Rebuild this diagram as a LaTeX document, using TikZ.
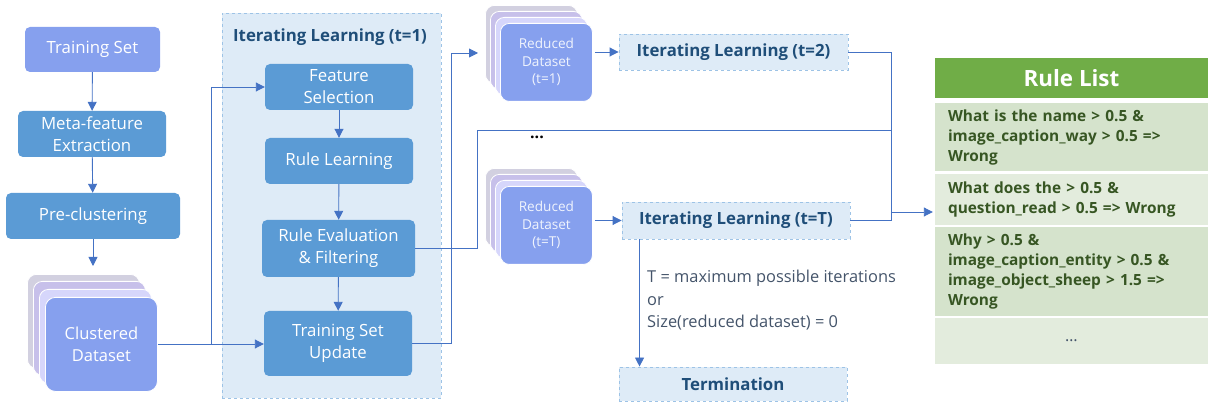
\documentclass[tikz,border=0pt]{standalone}
\usepackage{fontspec}
\setmainfont{Open Sans}
\usetikzlibrary{arrows.meta}
\definecolor{boxblue}{HTML}{5B9BD5}
\definecolor{setblue}{HTML}{86A0EE}
\definecolor{linkblue}{HTML}{4472C4}
\definecolor{panel}{HTML}{DEEBF7}
\definecolor{panelline}{HTML}{9DC3E6}
\definecolor{titleblue}{HTML}{1F4E79}
\definecolor{layerA}{HTML}{D2D0E0}
\definecolor{layerB}{HTML}{C7C0EA}
\definecolor{layerC}{HTML}{D6D6FB}
\definecolor{rulegreen}{HTML}{70AD47}
\definecolor{rowdark}{HTML}{D5E3CC}
\definecolor{rowlight}{HTML}{E3ECDD}
\definecolor{ruletext}{HTML}{375623}
\definecolor{notetext}{HTML}{44546A}
\tikzset{
  stepbox/.style={fill=boxblue, rounded corners=5pt, text=white, align=center,
    inner sep=0pt, font=\fontsize{16.8}{22}\selectfont},
  setbox/.style={stepbox, fill=setblue},
  layer/.style={draw=white, line width=0.8pt, rounded corners=9pt, anchor=north west},
  iterbox/.style={draw=panelline, dashed, line width=0.9pt, fill=panel, text=titleblue,
    inner sep=0pt, font=\bfseries\fontsize{16.8}{20}\selectfont},
  link/.style={draw=linkblue, line width=0.9pt},
  arrow/.style={link, -{Triangle[length=9pt,width=9pt]}},
  rulerow/.style={minimum width=273pt, text width=247pt, inner xsep=13pt, align=left,
    text=ruletext, font=\bfseries\fontsize{15.4}{20}\selectfont}
}
\begin{document}
\begin{tikzpicture}[x=1pt,y=-1pt]
  \useasboundingbox (0,0) rectangle (1208,403);
  \node[iterbox, minimum width=219pt, minimum height=385pt] (iter1) at (331.5,205.5) {};
  \node[text=titleblue, font=\bfseries\fontsize{16.8}{20}\selectfont] (iter1title) at (330,37) {Iterating Learning (t=1)};

  \node[setbox, minimum width=135pt, minimum height=45pt] (train) at (92.5,49.5) {Training Set};
  \node[stepbox, minimum width=148pt, minimum height=46pt] (meta) at (92,134) {Meta-feature\\Extraction};
  \node[stepbox, minimum width=174pt, minimum height=46pt] (precl) at (93,216) {Pre-clustering};
  \node[layer, fill=layerA, minimum width=112pt, minimum height=94pt] (clusA) at (27,274) {};
  \node[layer, fill=layerB, minimum width=112pt, minimum height=94pt] (clusB) at (33,281) {};
  \node[layer, fill=layerC, minimum width=112pt, minimum height=94pt] (clusC) at (39,289) {};
  \node[setbox, layer, rounded corners=10pt, minimum width=112pt, minimum height=94pt,
    font=\fontsize{16.5}{22}\selectfont] (clus) at (45,297) {Clustered\\Dataset};

  \node[stepbox, minimum width=148pt, minimum height=46pt] (fs) at (339,87) {Feature\\Selection};
  \node[stepbox, minimum width=148pt, minimum height=46pt] (rl) at (339,161) {Rule Learning};
  \node[stepbox, minimum width=153pt, minimum height=57pt] (refil) at (338.5,248.5) {Rule Evaluation\\\& Filtering};
  \node[stepbox, minimum width=148pt, minimum height=65pt] (tsu) at (338,343.5) {Training Set\\Update};

  \node[layer, fill=layerA, minimum width=92pt, minimum height=78pt] (red1A) at (485,5) {};
  \node[layer, fill=layerB, minimum width=92pt, minimum height=78pt] (red1B) at (490,11) {};
  \node[layer, fill=layerC, minimum width=92pt, minimum height=78pt] (red1C) at (495,17) {};
  \node[setbox, layer, minimum width=92pt, minimum height=78pt, text=white!88!setblue,
    font=\fontsize{13.6}{17.5}\selectfont] (red1) at (500,23) {Reduced\\Dataset\\(t=1)};
  \node[iterbox, minimum width=229pt, minimum height=36pt] (iter2) at (733.5,52) {Iterating Learning (t=2)};
  \node[font=\bfseries\fontsize{16}{18}\selectfont] (dots) at (537,137) {...};

  \node[layer, fill=layerA, minimum width=92pt, minimum height=78pt] (redTA) at (485,168) {};
  \node[layer, fill=layerB, minimum width=92pt, minimum height=78pt] (redTB) at (490,174) {};
  \node[layer, fill=layerC, minimum width=92pt, minimum height=78pt] (redTC) at (495,180) {};
  \node[setbox, layer, minimum width=92pt, minimum height=78pt, text=white!88!setblue,
    font=\fontsize{13.6}{17.5}\selectfont] (redT) at (500,186) {Reduced\\Dataset\\(t=T)};
  \node[iterbox, minimum width=228pt, minimum height=37pt] (iterT) at (736,220.5) {Iterating Learning (t=T)};
  \node[anchor=north west, align=left, text=notetext, inner sep=0pt,
    font=\fontsize{16.4}{22.5}\selectfont] (stopnote) at (647,270) {T = maximum possible iterations\\or\\Size(reduced dataset) = 0};
  \node[iterbox, minimum width=228pt, minimum height=34pt] (term) at (733,384) {Termination};

  \node[fill=rulegreen, text=white, minimum width=273pt, minimum height=40pt,
    font=\bfseries\fontsize{22.4}{24}\selectfont] (rulehead) at (1071.5,78) {Rule List};
  \node[rulerow, fill=rowdark, minimum height=68pt] (rule1) at (1071.5,137.5) {What is the name > 0.5 \&\\image\_caption\_way > 0.5 =>\\Wrong};
  \node[rulerow, fill=rowlight, minimum height=51pt] (rule2) at (1071.5,199.5) {What does the > 0.5 \&\\question\_read > 0.5 => Wrong};
  \node[rulerow, fill=rowdark, minimum height=89pt] (rule3) at (1071.5,271.5) {Why > 0.5 \&\\image\_caption\_entity > 0.5 \&\\image\_object\_sheep > 1.5 =>\\Wrong};
  \node[rulerow, fill=rowlight, minimum height=46pt, align=center, text=notetext,
    font=\fontsize{16}{18}\selectfont] (rule4) at (1071.5,341) {\dots};

  \coordinate (clustop) at (93,266);
  \coordinate (split) at (211,344);
  \coordinate (up) at (451,53);
  \coordinate (red1in) at (478,53);
  \coordinate (rise) at (477,130);
  \coordinate (join) at (891,212);
  \begin{scope}
    \draw[arrow] (train) -- (meta);
    \draw[arrow] (meta) -- (precl);
    \draw[arrow] (precl) -- (clustop);
    \draw[link] (clus.east |- split) -- (split);
    \draw[arrow] (split) |- (fs.west);
    \draw[arrow] (split) -- (tsu.west |- split);
    \draw[arrow] (fs) -- (rl);
    \draw[arrow] (rl) -- (refil);
    \draw[arrow] (refil) -- (tsu);
    \draw[link] (tsu.east) -| (up);
    \draw[arrow] (up) -- (red1in);
    \draw[arrow] ([xshift=2pt]red1.east |- iter2.west) -- (iter2.west);
    \draw[arrow] ([xshift=2pt]redT.east |- iterT.west) -- (iterT.west);
    \draw[link] (refil.east) -| (rise) -- (rise -| join);
    \draw[link] (iter2.east) -| (join);
    \draw[link] (iterT.east) -| (join);
    \draw[arrow] (join) -- ([xshift=-2pt]join -| rule2.west);
    \draw[arrow] ([xshift=18pt]iterT.south west) -- ([xshift=21pt]term.north west);
  \end{scope}
\end{tikzpicture}
\end{document}
